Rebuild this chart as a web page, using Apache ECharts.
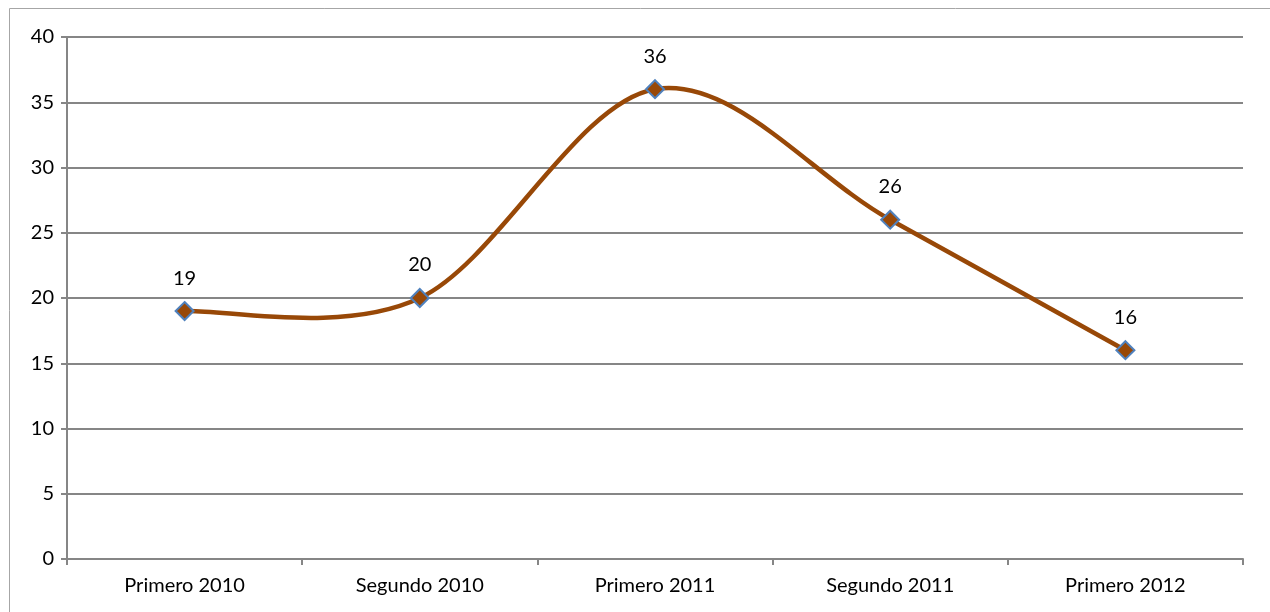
<!DOCTYPE html>
<html>
<head>
<meta charset="utf-8">
<script src="https://cdn.jsdelivr.net/npm/echarts@6/dist/echarts.min.js"></script>
<style>
  html, body { margin: 0; padding: 0; background: #fff; }
  #chart { width: 1270px; height: 612px; }
</style>
</head>
<body>
<div id="chart"></div>
<script>
var categories = ['Primero 2010', 'Segundo 2010', 'Primero 2011', 'Segundo 2011', 'Primero 2012']
var values = [19, 20, 36, 26, 16]
var yTicks = { min: 0, max: 40, interval: 5 }

var chart = echarts.init(document.getElementById('chart'))
var font = 'Lato, "Open Sans", "Noto Sans", sans-serif'

// excel style smoothing: bezier segments, control points from neighbours / 6
function renderSegment(params, api) {
  var i = params.dataIndex
  if (i >= values.length - 1) return null
  var pt = function (k) {
    k = Math.max(0, Math.min(values.length - 1, k))
    return api.coord([k, values[k]])
  }
  var p0 = pt(i - 1), p1 = pt(i), p2 = pt(i + 1), p3 = pt(i + 2)
  return {
    type: 'bezierCurve',
    shape: {
      x1: p1[0], y1: p1[1],
      x2: p2[0], y2: p2[1],
      cpx1: p1[0] + (p2[0] - p0[0]) / 6,
      cpy1: p1[1] + (p2[1] - p0[1]) / 6,
      cpx2: p2[0] - (p3[0] - p1[0]) / 6,
      cpy2: p2[1] - (p3[1] - p1[1]) / 6
    },
    style: { fill: 'none', stroke: '#984807', lineWidth: 4.5, lineCap: 'round' }
  }
}

chart.setOption({
  animation: false,
  graphic: [
    {
      type: 'rect',
      shape: { x: 9.5, y: 8.5, width: 1300, height: 700 },
      style: { fill: 'none', stroke: '#a6a6a6', lineWidth: 1 },
      silent: true
    }
  ],
  grid: { left: 67, right: 27, top: 37, bottom: 53 },
  xAxis: {
    type: 'category',
    data: categories,
    boundaryGap: true,
    axisLine: { lineStyle: { color: '#868686', width: 2 } },
    axisTick: { show: true, length: 6, lineStyle: { color: '#868686', width: 2 } },
    axisLabel: { color: '#000', fontSize: 20, fontFamily: font, margin: 17 },
    splitLine: { show: false }
  },
  yAxis: {
    type: 'value',
    min: yTicks.min,
    max: yTicks.max,
    interval: yTicks.interval,
    axisLine: { show: true, lineStyle: { color: '#868686', width: 2 } },
    axisTick: { show: true, length: 6, lineStyle: { color: '#868686', width: 2 } },
    axisLabel: { color: '#000', fontSize: 20, fontFamily: font, margin: 13 },
    splitLine: { show: true, lineStyle: { color: '#868686', width: 2 } }
  },
  series: [
    {
      type: 'custom',
      data: values.map(function (v, i) { return [i, v] }),
      encode: { x: 0, y: 1 },
      renderItem: renderSegment,
      silent: true,
      z: 2
    },
    {
      type: 'line',
      data: values,
      symbol: 'diamond',
      symbolSize: 18,
      lineStyle: { opacity: 0 },
      itemStyle: { color: '#984807', borderColor: '#4f81bd', borderWidth: 2 },
      label: {
        show: true,
        position: 'top',
        distance: 11,
        color: '#000',
        fontSize: 20,
        fontFamily: font,
        backgroundColor: '#fff',
        padding: [2, 4]
      },
      z: 3
    }
  ]
})
</script>
</body>
</html>
